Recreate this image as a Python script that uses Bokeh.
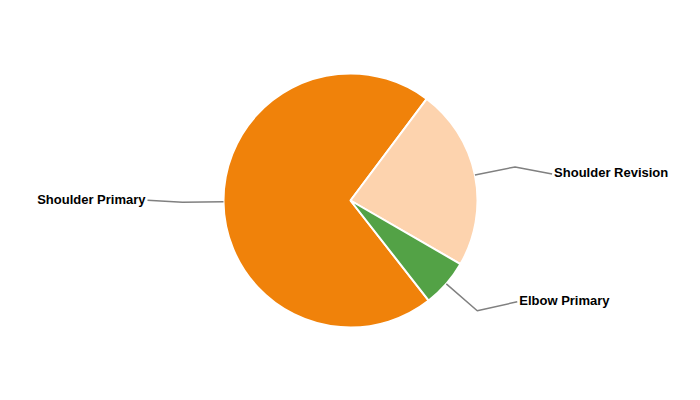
import math
from bokeh.plotting import figure
from bokeh.models import Range1d, ColumnDataSource
from bokeh.core.properties import value
from bokeh.embed import file_html
from bokeh.resources import INLINE

# ---- data ----
categories = ["Shoulder Primary", "Shoulder Revision", "Elbow Primary"]
shares = [70.8, 23.1, 6.1]
colors = ["#F0820A", "#FDD3AE", "#53A246"]

# ---- layout ----
W, H = 684, 384
CX, CY = 350, 200          # centre (window coords, y measured up from bottom of 400px window)
R = 127
START_DEG = 142            # clockwise from 12 o'clock, where the first slice begins
ELBOW_R = 168
# offsets (dx, dy screen-down) of the connector end from the elbow point
label_offsets = [(-35, -2), (37, 7), (40, -9)]

total = sum(shares)
starts, ends, mids = [], [], []
acc = START_DEG
for s in shares:
    a0 = acc
    a1 = acc + s / total * 360.0
    starts.append(a0)
    ends.append(a1)
    mids.append((a0 + a1) / 2)
    acc = a1

def to_math(deg_cw_from_top):
    return math.radians(90.0 - deg_cw_from_top)

p = figure(width=W, height=H, output_backend="svg", toolbar_location=None,
           x_range=Range1d(0, W), y_range=Range1d(400 - H, 400),
           min_border=0)
p.axis.visible = False
p.grid.visible = False
p.outline_line_color = None
p.background_fill_color = "white"
p.border_fill_color = "white"

src = ColumnDataSource(dict(
    x=[CX] * len(shares), y=[CY] * len(shares),
    start=[to_math(a) for a in starts],
    end=[to_math(a) for a in ends],
    color=colors))
p.wedge(x="x", y="y", radius=R, start_angle="start", end_angle="end",
        direction="clock", fill_color="color", line_color="white",
        line_width=2, source=src)

xs_lines, ys_lines = [], []
tx, ty, talign, ttext = [], [], [], []
for i, m in enumerate(mids):
    ang = to_math(m)
    x0 = CX + R * math.cos(ang)
    y0 = CY + R * math.sin(ang)
    x1 = CX + ELBOW_R * math.cos(ang)
    y1 = CY + ELBOW_R * math.sin(ang)
    dx, dy = label_offsets[i]
    x2 = x1 + dx
    y2 = y1 - dy
    xs_lines.append([x0, x1, x2])
    ys_lines.append([y0, y1, y2])
    if dx < 0:
        tx.append(x2 - 2); talign.append("right")
    else:
        tx.append(x2 + 2); talign.append("left")
    ty.append(y2 + 1)
    ttext.append(categories[i])

p.multi_line(xs=xs_lines, ys=ys_lines, line_color="#808080", line_width=1.5)

p.text(x=tx, y=ty, text=ttext, text_align=talign, text_baseline="middle",
       text_font=value("Liberation Sans"), text_font_style="bold",
       text_font_size="13px", text_color="#000000")

open("out.html", "w").write(file_html(p, INLINE))
